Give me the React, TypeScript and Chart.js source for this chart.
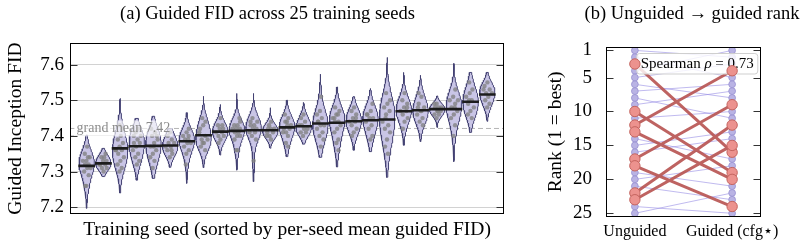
import React, { useEffect, useRef } from "react";
import { Chart, registerables } from "chart.js";

Chart.register(...registerables);

const FONT = "'Liberation Serif', 'Times New Roman', serif";

// ---- Panel (a): guided FID per training seed (seeds sorted by mean) ----
const seedMeans = [
  7.316, 7.323, 7.365, 7.371, 7.372, 7.373, 7.385, 7.402, 7.412, 7.414, 7.416, 7.416, 7.424,
  7.427, 7.435, 7.437, 7.441, 7.444, 7.446, 7.469, 7.472, 7.475, 7.475, 7.496, 7.516,
];
const violinLow = [
  7.197, 7.286, 7.24, 7.276, 7.281, 7.312, 7.267, 7.311, 7.346, 7.304, 7.272, 7.365, 7.342,
  7.377, 7.34, 7.313, 7.36, 7.356, 7.284, 7.374, 7.384, 7.424, 7.328, 7.41, 7.441,
];
const violinHigh = [
  7.402, 7.365, 7.505, 7.449, 7.455, 7.42, 7.465, 7.511, 7.488, 7.519, 7.519, 7.479, 7.5,
  7.494, 7.573, 7.537, 7.51, 7.533, 7.62, 7.578, 7.57, 7.512, 7.603, 7.578, 7.578,
];
const seedRuns: number[][] = [
  [7.37, 7.35, 7.34, 7.33, 7.33, 7.32, 7.32, 7.31, 7.31, 7.3, 7.29, 7.26, 7.26, 7.34],
  [7.35, 7.34, 7.34, 7.33, 7.33, 7.32, 7.32, 7.31, 7.31, 7.3, 7.32],
  [7.43, 7.42, 7.4, 7.39, 7.38, 7.37, 7.36, 7.36, 7.35, 7.34, 7.33, 7.32, 7.31, 7.3, 7.36],
  [7.42, 7.41, 7.4, 7.39, 7.38, 7.38, 7.37, 7.36, 7.35, 7.34, 7.33, 7.32, 7.4],
  [7.42, 7.41, 7.4, 7.39, 7.38, 7.37, 7.36, 7.35, 7.34, 7.33, 7.31, 7.4, 7.37],
  [7.41, 7.4, 7.39, 7.38, 7.38, 7.37, 7.36, 7.35, 7.34, 7.37, 7.36],
  [7.42, 7.41, 7.4, 7.4, 7.39, 7.38, 7.38, 7.37, 7.36, 7.35, 7.32, 7.39],
  [7.45, 7.44, 7.43, 7.42, 7.4, 7.39, 7.39, 7.38, 7.37, 7.36, 7.38, 7.41],
  [7.45, 7.43, 7.42, 7.42, 7.41, 7.41, 7.4, 7.4, 7.39, 7.38, 7.43],
  [7.44, 7.43, 7.43, 7.42, 7.42, 7.42, 7.41, 7.41, 7.4, 7.4, 7.39, 7.36, 7.36, 7.45],
  [7.45, 7.44, 7.43, 7.43, 7.42, 7.42, 7.41, 7.41, 7.4, 7.39, 7.33, 7.44],
  [7.44, 7.43, 7.42, 7.42, 7.41, 7.41, 7.4, 7.4, 7.39, 7.42],
  [7.46, 7.45, 7.44, 7.43, 7.43, 7.42, 7.42, 7.41, 7.41, 7.4, 7.38, 7.37, 7.44],
  [7.46, 7.45, 7.44, 7.43, 7.42, 7.42, 7.41, 7.41, 7.4, 7.43],
  [7.51, 7.47, 7.46, 7.45, 7.44, 7.43, 7.43, 7.42, 7.41, 7.4, 7.39, 7.37, 7.44],
  [7.48, 7.47, 7.46, 7.45, 7.44, 7.44, 7.43, 7.42, 7.41, 7.39, 7.38, 7.36, 7.46, 7.45],
  [7.48, 7.47, 7.46, 7.45, 7.44, 7.44, 7.43, 7.42, 7.41, 7.4, 7.45],
  [7.49, 7.47, 7.46, 7.45, 7.45, 7.44, 7.43, 7.42, 7.4, 7.39, 7.46],
  [7.52, 7.5, 7.49, 7.48, 7.47, 7.46, 7.44, 7.43, 7.42, 7.41, 7.39, 7.37, 7.35, 7.45],
  [7.52, 7.5, 7.49, 7.48, 7.47, 7.47, 7.46, 7.45, 7.44, 7.42, 7.48],
  [7.52, 7.51, 7.49, 7.48, 7.47, 7.46, 7.45, 7.44, 7.43, 7.47, 7.48],
  [7.49, 7.49, 7.48, 7.48, 7.47, 7.47, 7.46, 7.46, 7.45, 7.48, 7.47],
  [7.53, 7.51, 7.5, 7.49, 7.48, 7.47, 7.46, 7.45, 7.43, 7.4, 7.5, 7.48],
  [7.55, 7.53, 7.52, 7.51, 7.5, 7.49, 7.48, 7.47, 7.46, 7.45, 7.5],
  [7.55, 7.54, 7.53, 7.52, 7.52, 7.51, 7.5, 7.49, 7.48, 7.53],
];
const fidTicks = [7.2, 7.3, 7.4, 7.5, 7.6];

// ---- Panel (b): rank of each seed without guidance and with cfg* ----
const unguidedRank = [1, 2, 3, 4, 5, 6, 7, 8, 9, 10, 11, 12, 13, 14, 15, 16, 17, 18, 19, 20, 21, 22, 23, 24, 25];
const guidedRank = [2, 5, 16, 1, 3, 8, 6, 11, 7, 19, 10, 4, 20, 17, 13, 14, 9, 24, 21, 18, 23, 12, 15, 25, 22];
const rankTicks = [1, 5, 10, 15, 20, 25];
const columnLabels = ["Unguided", "Guided (cfg\u22C6)"];

const BIG_MOVE = 5; // seeds whose rank shifts by more than this are highlighted

const VIOLIN_HALF = 0.46;

function bandwidth(runs: number[]) {
  const n = runs.length;
  const mu = runs.reduce((a, b) => a + b, 0) / n;
  const sd = Math.sqrt(runs.reduce((a, b) => a + (b - mu) * (b - mu), 0) / (n - 1));
  // Scott's rule, widened a little for a smoother body
  return 1.4 * sd * Math.pow(n, -0.2);
}

function density(runs: number[], bw: number, y: number) {
  let s = 0;
  for (const v of runs) {
    const z = (y - v) / bw;
    s += Math.exp(-0.5 * z * z);
  }
  return s;
}

function violinOutline(i: number) {
  const runs = seedRuns[i];
  const lo = violinLow[i];
  const hi = violinHigh[i];
  const bw = bandwidth(runs);
  const steps = 80;
  const ys: number[] = [];
  for (let s = 0; s <= steps; s++) ys.push(lo + ((hi - lo) * s) / steps);
  const d = ys.map((y) => density(runs, bw, y));
  const peak = Math.max(...d);
  const half = d.map((v) => (VIOLIN_HALF * v) / peak);
  const pts: { x: number; y: number }[] = [];
  for (let s = 0; s <= steps; s++) pts.push({ x: i + half[s], y: ys[s] });
  for (let s = steps; s >= 0; s--) pts.push({ x: i - half[s], y: ys[s] });
  pts.push({ x: i + half[0], y: ys[0] });
  return { pts, halfAt: (y: number) => (VIOLIN_HALF * density(runs, bw, y)) / peak };
}

function spearman(a: number[], b: number[]) {
  const n = a.length;
  let s = 0;
  for (let i = 0; i < n; i++) s += (a[i] - b[i]) * (a[i] - b[i]);
  return 1 - (6 * s) / (n * (n * n - 1));
}

const frameAndTicks = (tickValues: number[]) => ({
  id: "frameAndTicks",
  afterDraw(chart: any) {
    const { ctx, chartArea } = chart;
    const ys = chart.scales.y;
    const L = Math.round(chartArea.left) + 0.5;
    const R = Math.round(chartArea.right) - 0.5;
    const T = Math.round(chartArea.top) + 0.5;
    const B = Math.round(chartArea.bottom) - 0.5;
    ctx.save();
    ctx.strokeStyle = "#333";
    ctx.lineWidth = 1;
    ctx.beginPath();
    for (const v of tickValues) {
      const p = Math.round(ys.getPixelForValue(v)) + 0.5;
      ctx.moveTo(L, p);
      ctx.lineTo(L + 7, p);
      ctx.moveTo(R, p);
      ctx.lineTo(R - 7, p);
    }
    ctx.stroke();
    ctx.strokeStyle = "#000";
    ctx.strokeRect(L, T, R - L, B - T);
    ctx.restore();
  },
});

function fidConfig(): any {
  const grandMean = seedMeans.reduce((a, b) => a + b, 0) / seedMeans.length;
  const datasets: any[] = [];

  const meanBars: any[] = [];
  seedMeans.forEach((m, i) => {
    meanBars.push({ x: i - 0.5, y: m }, { x: i + 0.5, y: m }, { x: i + 0.5, y: null });
  });
  datasets.push({
    label: "mean",
    data: meanBars,
    showLine: true,
    borderColor: "#1c1c1c",
    borderWidth: 2.6,
    pointRadius: 0,
    spanGaps: false,
    order: 0,
  });

  const dots: any[] = [];
  const outlines = seedRuns.map((_, i) => violinOutline(i));
  seedRuns.forEach((runs, i) => {
    runs.forEach((v, k) => {
      const frac = ((k + 1) * 0.618034 + i * 0.371) % 1;
      const off = (2 * frac - 1) * 0.62 * outlines[i].halfAt(v);
      dots.push({ x: i + off, y: v });
    });
  });
  datasets.push({
    label: "runs",
    data: dots,
    showLine: false,
    pointRadius: 2.2,
    pointBackgroundColor: "rgba(130,130,130,0.78)",
    pointBorderWidth: 0,
    order: 1,
  });

  outlines.forEach((o, i) => {
    datasets.push({
      label: "seed " + i,
      data: o.pts,
      showLine: true,
      fill: "shape",
      backgroundColor: "#c9c5e6",
      borderColor: "#444273",
      borderWidth: 1,
      pointRadius: 0,
      tension: 0,
      order: 2,
    });
  });

  datasets.push({
    label: "grand mean",
    data: [
      { x: -1, y: grandMean },
      { x: 25, y: grandMean },
    ],
    showLine: true,
    borderColor: "#b4b4b4",
    borderWidth: 1,
    borderDash: [5, 3],
    pointRadius: 0,
    order: 3,
  });

  const grandMeanLabel = {
    id: "grandMeanLabel",
    afterDatasetsDraw(chart: any) {
      const { ctx, chartArea } = chart;
      const y = chart.scales.y.getPixelForValue(grandMean);
      const text = `grand mean ${grandMean.toFixed(2)}`;
      ctx.save();
      ctx.font = `14px ${FONT}`;
      const w = ctx.measureText(text).width;
      ctx.fillStyle = "rgba(255,255,255,0.65)";
      ctx.fillRect(chartArea.left + 4, y - 8, w + 5, 16);
      ctx.fillStyle = "#8c8c8c";
      ctx.textBaseline = "middle";
      ctx.fillText(text, chartArea.left + 6.5, y);
      ctx.restore();
    },
  };

  return {
    type: "scatter",
    data: { datasets },
    options: {
      responsive: false,
      animation: false,
      events: [],
      layout: { padding: 0, autoPadding: false },
      plugins: {
        legend: { display: false },
        tooltip: { enabled: false },
        title: {
          display: true,
          text: "(a) Guided FID across 25 training seeds",
          color: "#000",
          font: { family: FONT, size: 18.5, weight: "normal" },
          padding: { top: 3, bottom: 18 },
        },
      },
      scales: {
        x: {
          type: "linear",
          min: -1,
          max: 25,
          grid: { display: false },
          border: { display: false },
          ticks: { display: false },
          title: {
            display: true,
            text: "Training seed (sorted by per-seed mean guided FID)",
            color: "#000",
            font: { family: FONT, size: 19.5 },
            padding: { top: 0, bottom: 4.3 },
          },
          afterFit: (s: any) => {
            s.height = 32;
          },
        },
        y: {
          type: "linear",
          min: 7.181,
          max: 7.66,
          afterBuildTicks: (s: any) => {
            s.ticks = fidTicks.map((v) => ({ value: v }));
          },
          grid: { color: "#d2d2d2", lineWidth: 1, drawTicks: false },
          border: { display: false },
          ticks: {
            color: "#000",
            font: { family: FONT, size: 19 },
            padding: 6,
            callback: (v: number) => v.toFixed(1),
          },
          title: {
            display: true,
            text: "Guided Inception FID",
            color: "#000",
            font: { family: FONT, size: 19.5 },
            padding: { top: 4.5, bottom: 0 },
          },
          afterFit: (s: any) => {
            s.width = 70;
          },
        },
        pad: {
          type: "linear",
          position: "right",
          grid: { display: false },
          border: { display: false },
          ticks: { display: false },
          afterFit: (s: any) => {
            s.width = 31;
          },
        },
      },
    },
    plugins: [grandMeanLabel, frameAndTicks(fidTicks)],
  };
}

function rankConfig(): any {
  const rho = spearman(unguidedRank, guidedRank);
  const thin: any[] = [];
  const thick: any[] = [];
  const small: any[] = [];
  const big: any[] = [];
  unguidedRank.forEach((u, i) => {
    const g = guidedRank[i];
    small.push({ x: 0, y: u }, { x: 1, y: g });
    const seg = [{ x: 0, y: u }, { x: 1, y: g }, { x: 1, y: null }];
    if (Math.abs(u - g) > BIG_MOVE) {
      thick.push(...seg);
      big.push({ x: 0, y: u }, { x: 1, y: g });
    } else {
      thin.push(...seg);
    }
  });

  const datasets: any[] = [
    {
      label: "moved points",
      data: big,
      showLine: false,
      pointRadius: 5.2,
      pointBackgroundColor: "#ec928e",
      pointBorderColor: "#c4645f",
      pointBorderWidth: 1,
      order: 0,
    },
    {
      label: "moved",
      data: thick,
      showLine: true,
      spanGaps: false,
      borderColor: "rgba(184,86,84,0.92)",
      borderWidth: 3,
      pointRadius: 0,
      order: 1,
    },
    {
      label: "all points",
      data: small,
      showLine: false,
      pointRadius: 3.4,
      pointBackgroundColor: "#b9b3e4",
      pointBorderColor: "#9890d2",
      pointBorderWidth: 0.8,
      order: 2,
    },
    {
      label: "steady",
      data: thin,
      showLine: true,
      spanGaps: false,
      borderColor: "rgba(150,140,228,0.6)",
      borderWidth: 1,
      pointRadius: 0,
      order: 3,
    },
  ];

  const rhoBox = {
    id: "rhoBox",
    afterDatasetDraw(chart: any, args: any) {
      if (chart.data.datasets[args.index].label !== "moved") return;
      const { ctx, chartArea } = chart;
      const a = "Spearman ";
      const b = "\u03C1";
      const c = ` = ${rho.toFixed(2)}`;
      ctx.save();
      ctx.font = `15px ${FONT}`;
      const wa = ctx.measureText(a).width;
      const wc = ctx.measureText(c).width;
      ctx.font = `italic 15px ${FONT}`;
      const wb = ctx.measureText(b).width;
      const w = wa + wb + wc + 8;
      const h = 20.5;
      const x0 = chartArea.right - 3.5 - w;
      const y0 = chartArea.top + 6.5;
      ctx.beginPath();
      ctx.roundRect(x0, y0, w, h, 3);
      ctx.fillStyle = "rgba(255,255,255,0.82)";
      ctx.fill();
      ctx.strokeStyle = "#cfcfcf";
      ctx.lineWidth = 1;
      ctx.stroke();
      ctx.fillStyle = "#000";
      ctx.textBaseline = "middle";
      const ty = y0 + h / 2 + 0.5;
      ctx.font = `15px ${FONT}`;
      ctx.fillText(a, x0 + 4, ty);
      ctx.font = `italic 15px ${FONT}`;
      ctx.fillText(b, x0 + 4 + wa, ty);
      ctx.font = `15px ${FONT}`;
      ctx.fillText(c, x0 + 4 + wa + wb, ty);
      ctx.restore();
    },
  };

  return {
    type: "scatter",
    data: { datasets },
    options: {
      responsive: false,
      animation: false,
      events: [],
      layout: { padding: 0, autoPadding: false },
      plugins: {
        legend: { display: false },
        tooltip: { enabled: false },
        title: {
          display: true,
          text: "(b) Unguided \u2192 guided rank",
          color: "#000",
          font: { family: FONT, size: 18.5, weight: "normal" },
          padding: { top: 3, bottom: 21.8 },
        },
      },
      scales: {
        x: {
          type: "linear",
          min: -0.3,
          max: 1.3,
          afterBuildTicks: (s: any) => {
            s.ticks = columnLabels.map((_, i) => ({ value: i }));
          },
          grid: { display: false },
          border: { display: false },
          ticks: {
            color: "#000",
            font: { family: FONT, size: 16 },
            padding: -3,
            maxRotation: 0,
            autoSkip: false,
            callback: (v: number) => columnLabels[v],
          },
          afterFit: (s: any) => {
            s.height = 29.3;
          },
        },
        y: {
          type: "linear",
          reverse: true,
          min: 0.5,
          max: 25.5,
          afterBuildTicks: (s: any) => {
            s.ticks = rankTicks.map((v) => ({ value: v }));
          },
          grid: { display: false },
          border: { display: false },
          ticks: {
            color: "#000",
            font: { family: FONT, size: 19 },
            padding: 5.7,
          },
          title: {
            display: true,
            text: "Rank (1 = best)",
            color: "#000",
            font: { family: FONT, size: 19.5 },
            padding: { top: 9.5, bottom: 0 },
          },
          afterFit: (s: any) => {
            s.width = 70.7;
          },
        },
        pad: {
          type: "linear",
          position: "right",
          grid: { display: false },
          border: { display: false },
          ticks: { display: false },
          afterFit: (s: any) => {
            s.width = 87.7;
          },
        },
      },
    },
    plugins: [rhoBox, frameAndTicks(rankTicks)],
  };
}

export default function App() {
  const fidRef = useRef<HTMLCanvasElement>(null);
  const rankRef = useRef<HTMLCanvasElement>(null);

  useEffect(() => {
    const a = new Chart(fidRef.current!, fidConfig());
    const b = new Chart(rankRef.current!, rankConfig());
    return () => {
      a.destroy();
      b.destroy();
    };
  }, []);

  return (
    <div
      style={{
        position: "fixed",
        left: 0,
        top: 0,
        width: 806,
        height: 246,
        overflow: "hidden",
        background: "#fff",
      }}
    >
      <canvas
        ref={fidRef}
        width={535}
        height={246}
        style={{ position: "absolute", left: 0, top: 0, width: 535, height: 246 }}
      />
      <canvas
        ref={rankRef}
        width={314}
        height={246}
        style={{ position: "absolute", left: 535, top: 0, width: 314, height: 246 }}
      />
    </div>
  );
}
